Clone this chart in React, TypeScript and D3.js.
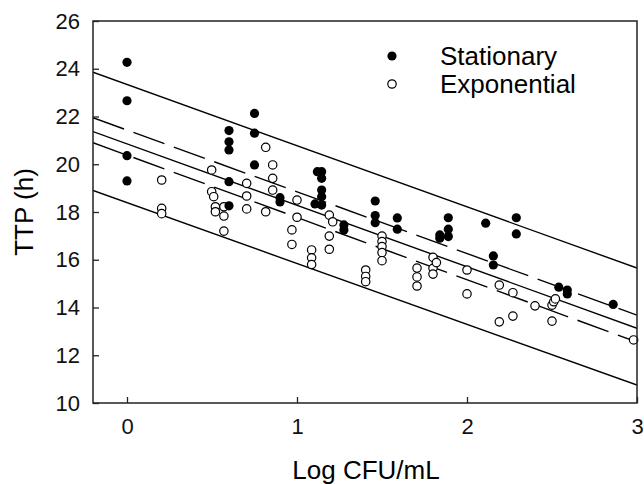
import { useEffect, useRef } from 'react';
import * as d3 from 'd3';

// stationary phase (filled)
const statX = [0, 0, 0, 0, 0.6, 0.6, 0.6, 0.6, 0.6, 0.75, 0.75, 0.75, 0.9, 0.9, 1.12, 1.145, 1.145, 1.145, 1.145, 1.145, 1.106, 1.276, 1.276, 1.46, 1.46, 1.46, 1.59, 1.59, 1.84, 1.84, 1.89, 1.89, 1.89, 2.11, 2.155, 2.155, 2.29, 2.29, 2.54, 2.59, 2.59, 2.86];
const statY = [24.27, 22.66, 20.36, 19.3, 21.41, 20.94, 20.6, 19.27, 18.26, 22.13, 21.3, 19.97, 18.6, 18.42, 19.69, 19.69, 19.41, 18.92, 18.64, 18.29, 18.34, 17.46, 17.25, 18.46, 17.85, 17.55, 17.75, 17.28, 17.04, 16.9, 17.76, 17.28, 16.97, 17.53, 16.16, 15.78, 17.76, 17.08, 14.85, 14.73, 14.57, 14.13];

// exponential phase (open)
const expX = [0.204, 0.204, 0.204, 0.498, 0.498, 0.51, 0.52, 0.52, 0.57, 0.57, 0.57, 0.704, 0.704, 0.704, 0.816, 0.816, 0.857, 0.857, 0.857, 0.97, 0.97, 1.0, 1.0, 1.086, 1.086, 1.086, 1.19, 1.19, 1.19, 1.21, 1.404, 1.404, 1.404, 1.5, 1.5, 1.5, 1.5, 1.5, 1.706, 1.706, 1.706, 1.8, 1.8, 1.8, 1.82, 2.0, 2.0, 2.19, 2.19, 2.27, 2.27, 2.4, 2.5, 2.5, 2.51, 2.52, 2.98];
const expY = [19.34, 18.15, 17.93, 19.76, 18.85, 18.64, 18.22, 18.01, 18.22, 17.83, 17.2, 19.2, 18.67, 18.13, 20.71, 18.01, 19.97, 19.41, 18.92, 17.25, 16.64, 18.5, 17.78, 16.41, 16.08, 15.8, 17.87, 16.99, 16.44, 17.59, 15.57, 15.3, 15.08, 16.99, 16.76, 16.55, 16.3, 15.96, 15.65, 15.28, 14.9, 16.1, 15.64, 15.4, 15.88, 15.57, 14.57, 14.94, 13.4, 14.62, 13.64, 14.07, 14.1, 13.43, 14.24, 14.36, 12.64];

// fitted lines: intercept, slope, dashed
const lineIntercepts = [23.34, 21.43, 20.855, 20.38, 18.39];
const lineSlopes = [-2.5625, -2.584, -2.575, -2.609, -2.547];
const lineDashed = [false, true, false, true, false];

const xTicks = [0, 1, 2, 3];
const yTicks = [10, 12, 14, 16, 18, 20, 22, 24, 26];
const legendLabels = ['Stationary', 'Exponential'];

export default function App() {
  const svgRef = useRef(null);

  useEffect(() => {
    const svg = d3.select(svgRef.current);
    const width = 644;
    const height = 484;
    const margin = { top: 21, right: 7, bottom: 81, left: 93 };
    const font = 'Liberation Sans, Arial, Helvetica, sans-serif';

    svg.attr('width', width).attr('height', height);
    svg.selectAll('*').remove();

    const x = d3.scaleLinear().domain([-0.2, 3]).range([margin.left, width - margin.right]);
    const y = d3.scaleLinear().domain([10, 26]).range([height - margin.bottom, margin.top]);

    svg.append('defs').append('clipPath').attr('id', 'plot')
      .append('rect')
      .attr('x', margin.left).attr('y', margin.top)
      .attr('width', width - margin.left - margin.right)
      .attr('height', height - margin.top - margin.bottom);

    // regression / interval lines
    const lg = svg.append('g').attr('clip-path', 'url(#plot)');
    lineIntercepts.forEach((b, i) => {
      const pts = [-0.2, 3].map((v) => [v, b + lineSlopes[i] * v]);
      lg.append('path')
        .datum(pts)
        .attr('fill', 'none')
        .attr('stroke', '#000')
        .attr('stroke-width', 1.4)
        .attr('stroke-dasharray', lineDashed[i] ? '33,10' : null)
        .attr('d', d3.line().x((d) => x(d[0])).y((d) => y(d[1])));
    });

    // points
    const pg = svg.append('g');
    pg.selectAll('.exp')
      .data(expX.map((v, i) => [v, expY[i]]))
      .join('circle')
      .attr('cx', (d) => x(d[0]))
      .attr('cy', (d) => y(d[1]))
      .attr('r', 4.2)
      .attr('fill', '#fff')
      .attr('stroke', '#000')
      .attr('stroke-width', 1.2);
    pg.selectAll('.stat')
      .data(statX.map((v, i) => [v, statY[i]]))
      .join('circle')
      .attr('cx', (d) => x(d[0]))
      .attr('cy', (d) => y(d[1]))
      .attr('r', 4.6)
      .attr('fill', '#000');

    // frame
    svg.append('rect')
      .attr('x', margin.left).attr('y', margin.top)
      .attr('width', width - margin.left - margin.right)
      .attr('height', height - margin.top - margin.bottom)
      .attr('fill', 'none')
      .attr('stroke', '#222')
      .attr('stroke-width', 1.5);

    const yAxis = svg.append('g')
      .attr('transform', `translate(${margin.left},0)`)
      .call(d3.axisLeft(y).tickValues(yTicks).tickSizeInner(-6).tickSizeOuter(0).tickPadding(13));
    const xAxis = svg.append('g')
      .attr('transform', `translate(0,${height - margin.bottom})`)
      .call(d3.axisBottom(x).tickValues(xTicks).tickFormat(d3.format('d')).tickSizeInner(-6).tickSizeOuter(0).tickPadding(15));
    [xAxis, yAxis].forEach((a) => {
      a.select('.domain').remove();
      a.selectAll('line').attr('stroke', '#222').attr('stroke-width', 1.3);
      a.selectAll('text').attr('font-family', font).attr('font-size', 22).attr('fill', '#111');
    });

    // axis titles
    svg.append('text')
      .attr('x', 366).attr('y', 479)
      .attr('text-anchor', 'middle')
      .attr('font-family', font).attr('font-size', 26)
      .text('Log CFU/mL');
    svg.append('text')
      .attr('transform', `translate(33,${(margin.top + height - margin.bottom) / 2}) rotate(-90)`)
      .attr('text-anchor', 'middle')
      .attr('font-family', font).attr('font-size', 26)
      .text('TTP (h)');

    // legend
    const leg = svg.append('g');
    legendLabels.forEach((label, i) => {
      const cy = 56 + i * 28;
      leg.append('circle')
        .attr('cx', 392).attr('cy', cy)
        .attr('r', i === 0 ? 4.6 : 4.2)
        .attr('fill', i === 0 ? '#000' : '#fff')
        .attr('stroke', '#000')
        .attr('stroke-width', i === 0 ? 0 : 1.2);
      leg.append('text')
        .attr('x', 440).attr('y', cy + 9)
        .attr('font-family', font).attr('font-size', 26)
        .text(label);
    });
  }, []);

  return <svg ref={svgRef} style={{ position: 'absolute', left: 0, top: 0 }}></svg>;
}
